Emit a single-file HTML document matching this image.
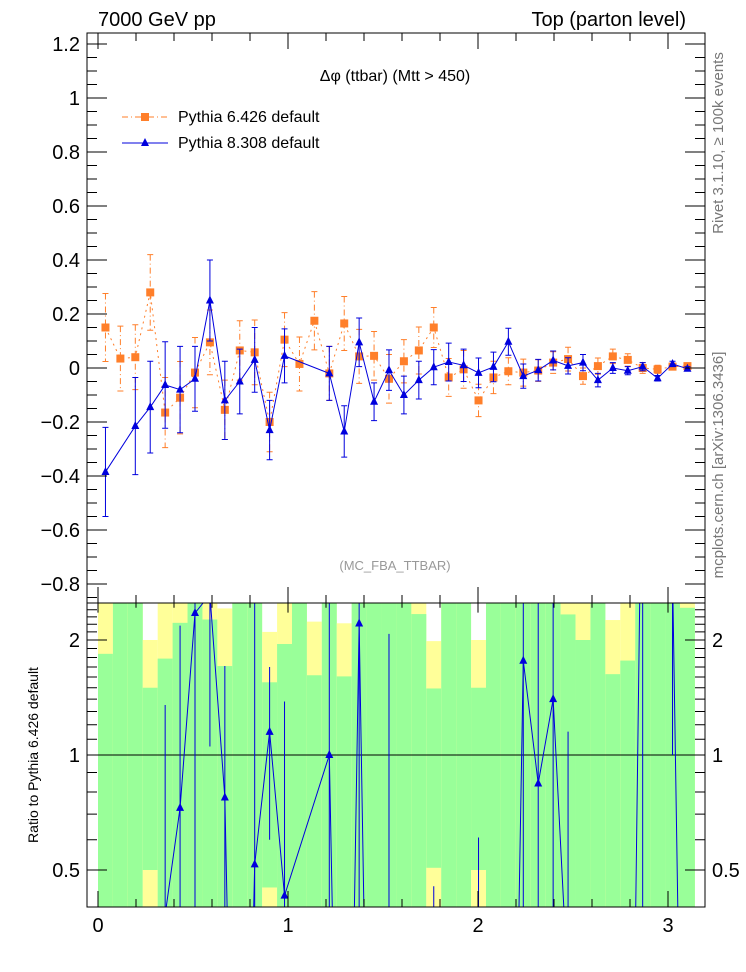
<!DOCTYPE html>
<html><head><meta charset="utf-8"><style>
html,body{margin:0;padding:0;background:#fff;width:746px;height:972px;overflow:hidden;}
svg{display:block;font-family:"Liberation Sans",Arial,sans-serif;}
</style></head><body>
<svg id="chart" width="746" height="972" viewBox="0 0 746 972" xmlns="http://www.w3.org/2000/svg">
<text x="98" y="26" font-size="20">7000 GeV pp</text>
<text x="686" y="26" font-size="20" text-anchor="end">Top (parton level)</text>
<text x="395" y="81" font-size="16" text-anchor="middle">Δφ (ttbar) (Mtt &gt; 450)</text>
<text x="395" y="570" font-size="13" fill="#999" text-anchor="middle">(MC_FBA_TTBAR)</text>
<text transform="translate(723,143) rotate(-90)" font-size="15" fill="#777" text-anchor="middle">Rivet 3.1.10, ≥ 100k events</text>
<text transform="translate(723,465) rotate(-90)" font-size="15" fill="#777" text-anchor="middle">mcplots.cern.ch [arXiv:1306.3436]</text>
<text transform="translate(38,755) rotate(-90)" font-size="14" text-anchor="middle">Ratio to Pythia 6.426 default</text>
<g id="bands"></g><g id="ratio"></g><g id="main"></g><g id="axes"></g>
<g>
 <g>
  <line x1="122" y1="117" x2="168" y2="117" stroke="#ff7f2a" stroke-width="1" stroke-dasharray="6,3,1,3"/>
  <rect x="141" y="113" width="8" height="8" fill="#ff7f2a"/>
  <text x="178" y="122" font-size="16">Pythia 6.426 default</text>
 </g>
 <g>
  <line x1="122" y1="143" x2="168" y2="143" stroke="#0000dd" stroke-width="1"/>
  <polygon points="145,138 141,146 149,146" fill="#0000dd"/>
  <text x="178" y="148" font-size="16">Pythia 8.308 default</text>
 </g>
</g>
</svg>
<script>
const orangeVals=[0.15,0.035,0.04,0.28,-0.165,-0.11,-0.017,0.095,-0.155,0.065,0.058,-0.2,0.105,0.015,0.175,-0.02,0.165,0.043,0.045,-0.04,0.025,0.065,0.15,-0.035,-0.005,-0.12,-0.035,-0.012,-0.017,-0.0095,0.02,0.033,-0.03,0.007,0.043,0.03,0,-0.005,0.005,0.007];
const orangeErrs=[0.126,0.12,0.12,0.14,0.13,0.134,0.13,0.12,0.11,0.11,0.12,0.11,0.1,0.1,0.108,0.1,0.1,0.1,0.09,0.09,0.08,0.087,0.074,0.07,0.07,0.06,0.06,0.05,0.05,0.04,0.04,0.044,0.03,0.03,0.027,0.023,0.02,0.015,0.012,0.01];
const blueVals=[-0.385,null,-0.215,-0.145,-0.063,-0.08,-0.04,0.25,-0.12,-0.05,0.03,-0.23,0.045,null,null,-0.02,-0.235,0.095,-0.125,-0.008,-0.1,-0.045,0.003,0.022,0.01,-0.018,0.004,0.097,-0.03,-0.008,0.028,0.008,0.02,-0.045,0,-0.01,0.005,-0.038,0.015,-0.003];
const blueErrs=[0.165,0,0.18,0.17,0.16,0.16,0.12,0.15,0.145,0.12,0.12,0.11,0.1,0,0,0.1,0.095,0.09,0.07,0.075,0.07,0.07,0.065,0.07,0.06,0.055,0.055,0.05,0.045,0.04,0.035,0.03,0.03,0.025,0.02,0.015,0.015,0.01,0.01,0.008];
const yTicks=[-0.8,-0.6,-0.4,-0.2,0,0.2,0.4,0.6,0.8,1,1.2];
const xTicks=[0,1,2,3];
const ratioTicks=[0.5,1,2];

const NS="http://www.w3.org/2000/svg";
const L=87,R=705,T=33,MB=603,RB=907;
const X=v=>98+190*v;
const Y=v=>368-270*v;
const RY=v=>755-382*Math.log10(v);
const NB=orangeVals.length,W=Math.PI/NB;
function mk(p,tag,a){const e=document.createElementNS(NS,tag);for(const k in a)e.setAttribute(k,a[k]);p.appendChild(e);return e;}
const bands=document.getElementById('bands'),ratio=document.getElementById('ratio'),main=document.getElementById('main'),axes=document.getElementById('axes');
const defs=mk(document.getElementById('chart'),'defs',{});
const c1=mk(defs,'clipPath',{id:'cm'});mk(c1,'rect',{x:L,y:T,width:R-L,height:MB-T});
const c2=mk(defs,'clipPath',{id:'cr'});mk(c2,'rect',{x:L,y:MB,width:R-L,height:RB-MB});
bands.setAttribute('clip-path','url(#cr)');ratio.setAttribute('clip-path','url(#cr)');main.setAttribute('clip-path','url(#cm)');
const clampR=v=>RY(Math.min(10,Math.max(0.01,v)));
for(let i=0;i<NB;i++){
 const h=orangeErrs[i]/Math.abs(orangeVals[i]||1e-9);
 const x0=X(i*W),x1=X((i+1)*W);
 const y2t=clampR(1+2*h),y2b=clampR(1-2*h>0?1-2*h:0.01);
 const yel=mk(bands,'rect',{x:x0,y:y2t,width:x1-x0,height:y2b-y2t,fill:'#ffff99'});
 
 
 const y1t=clampR(1+h),y1b=clampR(1-h>0?1-h:0.01);
 const gr=mk(bands,'rect',{x:x0,y:y1t,width:x1-x0,height:y1b-y1t,fill:'#99ff99'});
 
 
}
const one=mk(ratio,'line',{x1:L,x2:R,y1:RY(1),y2:RY(1),stroke:'#000','stroke-width':1});


let rpts=[];
for(let i=0;i<NB;i++){
 if(blueVals[i]===null)continue;
 const r=blueVals[i]/orangeVals[i],cx=X((i+0.5)*W);
 const re=blueErrs[i]/Math.abs(orangeVals[i]);
 rpts.push(cx+','+clampR(r));
 if(r>0){
  const eb=mk(ratio,'line',{x1:cx,x2:cx,y1:clampR(r+re),y2:clampR(r-re>0?r-re:0.01),stroke:'#0000dd','stroke-width':1});
  
  
  const cy=clampR(r);
  const m=mk(ratio,'polygon',{points:`${cx},${cy-5} ${cx-4},${cy+3} ${cx+4},${cy+3}`,fill:'#0000dd'});
  
  
 }
}
const rl=mk(ratio,'polyline',{points:rpts.join(' '),fill:'none',stroke:'#0000dd','stroke-width':1});


let op=[];
for(let i=0;i<NB;i++){
 const cx=X((i+0.5)*W),cy=Y(orangeVals[i]);op.push(cx+','+cy);
 const t=Y(orangeVals[i]+orangeErrs[i]),b=Y(orangeVals[i]-orangeErrs[i]);
 const e=mk(main,'path',{d:`M${cx},${t}V${b}M${cx-3},${t}H${cx+3}M${cx-3},${b}H${cx+3}`,stroke:'#ff7f2a','stroke-width':1,fill:'none','stroke-dasharray':'6,3,1,3'});
 
 
}
const ol=mk(main,'polyline',{points:op.join(' '),fill:'none',stroke:'#ff7f2a','stroke-width':1,'stroke-dasharray':'2,4'});


for(let i=0;i<NB;i++){
 const cx=X((i+0.5)*W),cy=Y(orangeVals[i]);
 const m=mk(main,'rect',{x:cx-4,y:cy-4,width:8,height:8,fill:'#ff7f2a'});
 
 
}
let bp=[];
for(let i=0;i<NB;i++){
 if(blueVals[i]===null)continue;
 const cx=X((i+0.5)*W),cy=Y(blueVals[i]);bp.push(cx+','+cy);
 const t=Y(blueVals[i]+blueErrs[i]),b=Y(blueVals[i]-blueErrs[i]);
 const e=mk(main,'path',{d:`M${cx},${t}V${b}M${cx-3},${t}H${cx+3}M${cx-3},${b}H${cx+3}`,stroke:'#0000dd','stroke-width':1,fill:'none'});
 
 
}
const bl=mk(main,'polyline',{points:bp.join(' '),fill:'none',stroke:'#0000dd','stroke-width':1});


for(let i=0;i<NB;i++){
 if(blueVals[i]===null)continue;
 const cx=X((i+0.5)*W),cy=Y(blueVals[i]);
 const m=mk(main,'polygon',{points:`${cx},${cy-5} ${cx-4},${cy+3} ${cx+4},${cy+3}`,fill:'#0000dd'});
 
 
}
const f1=mk(axes,'rect',{x:L,y:T,width:R-L,height:MB-T,fill:'none',stroke:'#000','stroke-width':1});


const f2=mk(axes,'rect',{x:L,y:MB,width:R-L,height:RB-MB,fill:'none',stroke:'#000','stroke-width':1});


let d='';
for(let v=-0.85;v<=1.2401;v+=0.05){const y=Y(v);const maj=Math.abs(Math.round(v*5)-v*5)<1e-6;const len=maj?20:10;d+=`M${L},${y}h${len}M${R},${y}h${-len}`;}
for(let v=0;v<=3.2;v+=0.2){const x=X(v);const maj=Math.abs(Math.round(v)-v)<1e-6;const len=maj?16:8;
 d+=`M${x},${T}v${len}M${x},${MB}v${-len}M${x},${MB}v${len*0.6}M${x},${RB}v${-len}`;}
for(let v=0.4;v<=2.51;v+=0.1){const y=RY(v);const maj=ratioTicks.some(t=>Math.abs(t-v)<1e-6);const len=maj?20:10;d+=`M${L},${y}h${len}M${R},${y}h${-len}`;}
const tk=mk(axes,'path',{d:d,stroke:'#000','stroke-width':1,fill:'none'});


yTicks.forEach(v=>{const t=mk(axes,'text',{x:80,y:Y(v)+7,'font-size':20,'text-anchor':'end'});t.textContent=(v<0?'\u2212':'')+String(Math.abs(v));
 
 });
xTicks.forEach(v=>{const t=mk(axes,'text',{x:X(v),y:932,'font-size':20,'text-anchor':'middle'});t.textContent=String(v);
 
 });
ratioTicks.forEach(v=>{
 const t=mk(axes,'text',{x:80,y:RY(v)+7,'font-size':20,'text-anchor':'end'});t.textContent=String(v);
 
 
 const t2=mk(axes,'text',{x:712,y:RY(v)+7,'font-size':20});t2.textContent=String(v);
 
 });
</script>
</body></html>
